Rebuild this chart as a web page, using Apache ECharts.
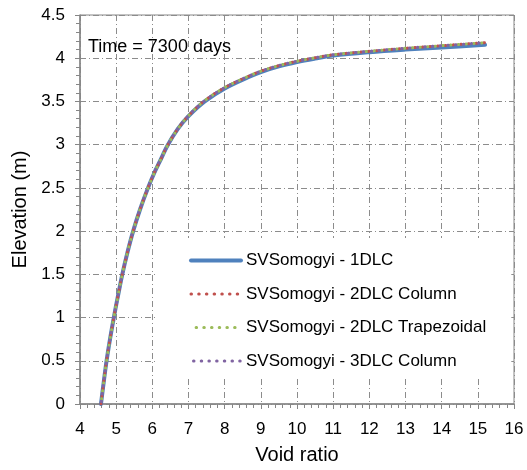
<!DOCTYPE html>
<html>
<head>
<meta charset="utf-8">
<script src="https://cdn.jsdelivr.net/npm/echarts@6/dist/echarts.min.js"></script>
<style>html,body{margin:0;padding:0;background:#fff}#c{width:527px;height:470px}</style>
</head>
<body>
<div id="c"></div>
<script>
// Void ratio (x) vs Elevation (m) (y)
var voidRatio1 = [4.58,4.655,4.735,4.83,4.935,5.05,5.17,5.31,5.47,5.66,5.88,6.05,6.2,6.42,6.7,7.0,7.45,8.0,8.65,9.0,9.5,10.0,10.5,11.0,12.0,13.0,14.0,15.2];
var elev1DLC   = [0,0.25,0.5,0.75,1.0,1.25,1.5,1.75,2.0,2.25,2.5,2.67,2.8,2.99,3.18,3.33,3.5,3.65,3.78,3.84,3.905,3.955,3.995,4.03,4.07,4.10,4.125,4.155];
var voidRatio2 = [4.58,4.655,4.735,4.83,4.935,5.05,5.17,5.31,5.47,5.66,5.88,6.05,6.2,6.42,6.7,7.0,7.45,8.0,8.65,9.0,9.5,10.0,10.5,11.0,12.0,13.0,14.0,15.2];
var elev2DLCCol  = [0,0.25,0.5,0.75,1.0,1.25,1.5,1.75,2.0,2.25,2.5,2.67,2.8,2.99,3.18,3.335,3.51,3.66,3.79,3.85,3.915,3.965,4.005,4.04,4.08,4.115,4.145,4.18];
var elev2DLCTrap = [0,0.25,0.5,0.75,1.0,1.25,1.5,1.75,2.0,2.25,2.5,2.67,2.8,2.99,3.18,3.335,3.51,3.66,3.79,3.85,3.915,3.965,4.005,4.04,4.08,4.115,4.145,4.18];
var elev3DLCCol  = [0,0.25,0.5,0.75,1.0,1.25,1.5,1.75,2.0,2.25,2.5,2.67,2.8,2.99,3.18,3.335,3.51,3.66,3.79,3.85,3.915,3.965,4.005,4.04,4.08,4.115,4.145,4.18];
var seriesNames = ['SVSomogyi - 1DLC','SVSomogyi - 2DLC Column','SVSomogyi - 2DLC Trapezoidal','SVSomogyi - 3DLC Column'];
var colors = ['#4F81BD','#C0504D','#9BBB59','#8064A2'];

function pairs(xs, ys){ return xs.map(function(x,i){ return [x, ys[i]]; }); }

var chart = echarts.init(document.getElementById('c'), null, {renderer:'canvas'});
var font = 'Liberation Sans, Arial, sans-serif';
var dash = [6,3,1,3];
var dotted = [0.5,7.2];
var lineW = [4, 3, 3, 3];
chart.setOption({
  animation:false,
  backgroundColor:'#fff',
  grid:{left:80, top:15, right:13, bottom:62, show:true, borderColor:'#868686', borderWidth:1},
  title:{text:'Time = 7300 days', left:83, top:33, textStyle:{fontFamily:font, fontSize:18, fontWeight:'normal', color:'#000'}},
  legend:{
    orient:'vertical', left:156, top:238, padding:[14,25,7,33],
    backgroundColor:'#fff', itemWidth:50, itemHeight:14, itemGap:16.5,
    data:seriesNames.map(function(n,i){ return {name:n, lineStyle:{width:lineW[i]}}; }),
    itemStyle:{opacity:0},
    textStyle:{fontFamily:font, fontSize:17, color:'#000'}
  },
  xAxis:{
    type:'value', min:4, max:16, interval:1,
    name:'Void ratio', nameLocation:'middle', nameGap:41,
    nameTextStyle:{fontFamily:font, fontSize:20, color:'#000'},
    axisLine:{show:true, lineStyle:{color:'#868686', width:1.5}},
    axisTick:{show:true, length:5, lineStyle:{color:'#868686'}},
    minorTick:{show:true, splitNumber:5, length:4, lineStyle:{color:'#868686'}},
    axisLabel:{fontFamily:font, fontSize:17, color:'#000', margin:17},
    splitLine:{show:true, lineStyle:{color:'#8c8c8c', type:dash, width:1}}
  },
  yAxis:{
    type:'value', min:0, max:4.5, interval:0.5,
    name:'Elevation (m)', nameLocation:'middle', nameGap:47,
    nameTextStyle:{fontFamily:font, fontSize:20, color:'#000'},
    axisLine:{show:true, lineStyle:{color:'#868686', width:1.5}},
    axisTick:{show:true, length:5, lineStyle:{color:'#868686'}},
    minorTick:{show:true, splitNumber:5, length:4, lineStyle:{color:'#868686'}},
    axisLabel:{fontFamily:font, fontSize:17, color:'#000', margin:15},
    splitLine:{show:true, lineStyle:{color:'#8c8c8c', type:dash, width:1}}
  },
  series:[
    {name:seriesNames[0], type:'line', data:pairs(voidRatio1, elev1DLC), smooth:0.35, symbol:'circle', symbolSize:0, showSymbol:false,
      lineStyle:{color:colors[0], width:lineW[0], cap:'round'}, itemStyle:{color:colors[0]}, z:2},
    {name:seriesNames[1], type:'line', data:pairs(voidRatio2, elev2DLCCol), smooth:0.35, symbol:'circle', symbolSize:0, showSymbol:false,
      lineStyle:{color:colors[1], width:lineW[1], type:dotted, cap:'round'}, itemStyle:{color:colors[1]}, z:3},
    {name:seriesNames[2], type:'line', data:pairs(voidRatio2, elev2DLCTrap), smooth:0.35, symbol:'circle', symbolSize:0, showSymbol:false,
      lineStyle:{color:colors[2], width:lineW[2], type:dotted, dashOffset:2.6, cap:'round'}, itemStyle:{color:colors[2]}, z:4},
    {name:seriesNames[3], type:'line', data:pairs(voidRatio2, elev3DLCCol), smooth:0.35, symbol:'circle', symbolSize:0, showSymbol:false,
      lineStyle:{color:colors[3], width:lineW[3], type:dotted, dashOffset:5.2, cap:'round'}, itemStyle:{color:colors[3]}, z:5}
  ]
});
</script>
</body>
</html>
